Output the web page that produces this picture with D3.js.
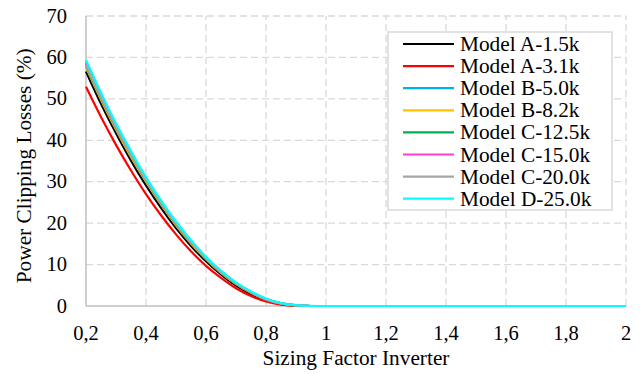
<!DOCTYPE html>
<html>
<head>
<meta charset="utf-8">
<script src="https://cdn.jsdelivr.net/npm/d3@7"></script>
<style>
  body { margin: 0; background: #fff; }
</style>
</head>
<body>
<div id="chart"></div>
<script>
var xs = [0.2,0.25,0.3,0.35,0.4,0.45,0.5,0.55,0.6,0.65,0.7,0.75,0.8,0.85,0.9,0.95,1.0,1.2,1.4,1.6,1.8,2.0];

var seriesNames = ["Model A-1.5k","Model A-3.1k","Model B-5.0k","Model B-8.2k",
                   "Model C-12.5k","Model C-15.0k","Model C-20.0k","Model D-25.0k"];
var seriesColors = ["#000000","#FF0000","#00B0F0","#FFC000","#00B050","#FF3FCF","#A6A6A6","#00FFFF"];

var modelA15 = [56.6,48.8,41.7,35.1,29.1,23.7,18.8,14.5,10.8,7.6,4.9,2.9,1.4,0.5,0.1,0,0,0,0,0,0,0];
var modelA31 = [52.9,45.6,38.9,32.7,27.0,21.9,17.3,13.2,9.7,6.8,4.3,2.4,1.1,0.35,0.05,0,0,0,0,0,0,0];
var modelB50 = [58.8,51.0,43.6,37.0,30.8,25.2,20.1,15.7,11.7,8.4,5.6,3.4,1.7,0.7,0.2,0,0,0,0,0,0,0];
var modelB82 = [57.6,49.8,42.6,36.0,30.0,24.5,19.5,15.1,11.3,8.0,5.3,3.2,1.6,0.6,0.15,0,0,0,0,0,0,0];
var modelC125 = [58.0,50.2,43.0,36.4,30.3,24.8,19.8,15.3,11.5,8.2,5.4,3.3,1.6,0.6,0.15,0,0,0,0,0,0,0];
var modelC150 = [58.4,50.6,43.3,36.7,30.6,25.0,20.0,15.5,11.6,8.3,5.5,3.3,1.7,0.65,0.2,0,0,0,0,0,0,0];
var modelC200 = [58.2,50.4,43.2,36.5,30.4,24.9,19.9,15.4,11.5,8.2,5.5,3.3,1.6,0.6,0.15,0,0,0,0,0,0,0];
var modelD250 = [59.4,51.5,44.1,37.4,31.1,25.5,20.4,15.9,11.9,8.5,5.7,3.5,1.8,0.7,0.2,0.05,0,0,0,0,0,0];

var allValues = [modelA15, modelA31, modelB50, modelB82, modelC125, modelC150, modelC200, modelD250];

var xTicks = [0.2,0.4,0.6,0.8,1,1.2,1.4,1.6,1.8,2];
var yTicks = [0,10,20,30,40,50,60,70];

var width = 643, height = 374;
var margin = {left: 86, right: 17, top: 16, bottom: 68};
var serif = "Liberation Serif";

var svg = d3.select("#chart").append("svg")
    .attr("width", width)
    .attr("height", height)
    .attr("font-family", serif);

var x = d3.scaleLinear().domain([0.2, 2]).range([margin.left, width - margin.right]);
var y = d3.scaleLinear().domain([0, 70]).range([height - margin.bottom, margin.top]);

// gridlines
svg.append("g").selectAll("line")
    .data(yTicks.filter(function(d){ return d > 0; }))
    .enter().append("line")
    .attr("x1", x(0.2)).attr("x2", x(2))
    .attr("y1", function(d){ return y(d); })
    .attr("y2", function(d){ return y(d); })
    .attr("stroke", "#D9D9D9")
    .attr("stroke-width", 1.3)
    .attr("stroke-dasharray", "7,4");

svg.append("g").selectAll("line")
    .data(xTicks.filter(function(d){ return d > 0.2; }))
    .enter().append("line")
    .attr("y1", y(0)).attr("y2", y(70))
    .attr("x1", function(d){ return x(d); })
    .attr("x2", function(d){ return x(d); })
    .attr("stroke", "#D9D9D9")
    .attr("stroke-width", 1.3)
    .attr("stroke-dasharray", "7,4");

// axis lines
svg.append("line")
    .attr("x1", x(0.2)).attr("x2", x(0.2))
    .attr("y1", y(0)).attr("y2", y(70))
    .attr("stroke", "#BFBFBF").attr("stroke-width", 1.5);
svg.append("line")
    .attr("x1", x(0.2)).attr("x2", x(2))
    .attr("y1", y(0)).attr("y2", y(0))
    .attr("stroke", "#BFBFBF").attr("stroke-width", 1.5);

// tick labels
svg.append("g").selectAll("text")
    .data(yTicks)
    .enter().append("text")
    .attr("x", 67)
    .attr("y", function(d){ return y(d) + 6.5; })
    .attr("text-anchor", "end")
    .attr("font-family", serif)
    .style("font-size", "20.5px")
    .text(function(d){ return d; });

svg.append("g").selectAll("text")
    .data(xTicks)
    .enter().append("text")
    .attr("x", function(d){ return x(d); })
    .attr("y", 339.5)
    .attr("text-anchor", "middle")
    .attr("font-family", serif)
    .style("font-size", "20.5px")
    .text(function(d){ return String(d).replace(".", ","); });

// axis titles
svg.append("text")
    .attr("x", (x(0.2) + x(2)) / 2)
    .attr("y", 365)
    .attr("text-anchor", "middle")
    .attr("font-family", serif)
    .style("font-size", "21.3px")
    .text("Sizing Factor Inverter");

svg.append("text")
    .attr("transform", "translate(30.5," + 165.8 + ") rotate(-90)")
    .attr("text-anchor", "middle")
    .attr("font-family", serif)
    .style("font-size", "21.3px")
    .text("Power Clipping Losses (%)");

// curves
var line = d3.line()
    .x(function(d){ return x(d[0]); })
    .y(function(d){ return y(d[1]); })
    .curve(d3.curveMonotoneX);

svg.append("g").selectAll("path")
    .data(allValues)
    .enter().append("path")
    .attr("d", function(vals){
      return line(vals.map(function(v, i){ return [xs[i], v]; }));
    })
    .attr("fill", "none")
    .attr("stroke", function(d, i){ return seriesColors[i]; })
    .attr("stroke-width", 2.2);

// legend
var legend = svg.append("g");
legend.append("rect")
    .attr("x", 388).attr("y", 32)
    .attr("width", 224).attr("height", 178)
    .attr("fill", "#fff")
    .attr("stroke", "#D9D9D9")
    .attr("stroke-width", 1.5);

var items = legend.selectAll("g.item")
    .data(seriesNames)
    .enter().append("g")
    .attr("class", "item")
    .attr("transform", function(d, i){ return "translate(0," + (44 + i * 22.1) + ")"; });

items.append("line")
    .attr("x1", 403).attr("x2", 454)
    .attr("y1", 0).attr("y2", 0)
    .attr("stroke", function(d, i){ return seriesColors[i]; })
    .attr("stroke-width", 2.2);

items.append("text")
    .attr("x", 460)
    .attr("y", 7)
    .attr("font-family", serif)
    .style("font-size", "21.3px")
    .text(String);
</script>
</body>
</html>
